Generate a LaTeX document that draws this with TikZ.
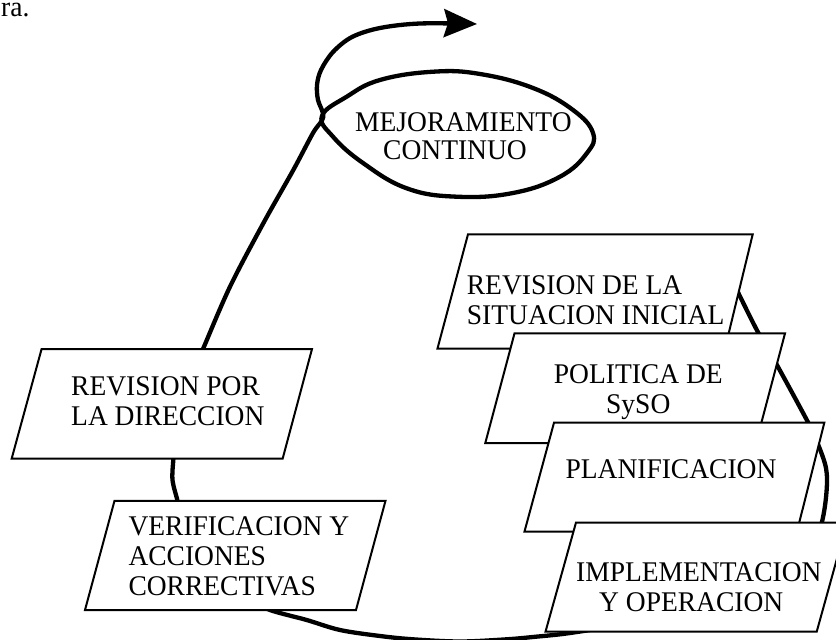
\documentclass[tikz,border=0pt]{standalone}
\usepackage{fontspec}
\setmainfont{Liberation Serif}[FakeStretch=0.965]
\usetikzlibrary{arrows.meta}
\begin{document}
\begin{tikzpicture}[x=1bp,y=-1bp,
  box/.style={draw=black, fill=white, line width=2bp, line join=miter},
  loopline/.style={draw=black, line width=4.3bp},
  lbl/.style={inner sep=0pt, font=\fontsize{28.5bp}{30bp}\selectfont},
]
\useasboundingbox (0,0) rectangle (836,640);
\clip (0,0) rectangle (836,640);

% fragment of text at the top left
\node[lbl, anchor=base west] (frag) at (1,17) {ra.};

% ---- loop line (drawn first, boxes cover it) ----
\coordinate (c1) at (728,272);
\coordinate (c2) at (812,548);
\draw[loopline] plot[smooth, tension=0.55] coordinates {(c1) (737.7,291.7) (757.7,331.7) (776,363.3) (807.7,421.7) (817,441.7) (826,468) (826.5,492) (822,521.7) (c2)};

\coordinate (c3) at (590,630);
\coordinate (c4) at (245,598);
\draw[loopline] plot[smooth, tension=0.55] coordinates {(c3) (562.7,634) (536,636.7) (506.7,639.3) (460,641.5) (413,639.3) (380,636) (340,630) (306.7,620) (270,610) (c4)};

\coordinate (c5) at (174,452);
\coordinate (c6) at (178.5,508);
\draw[loopline] plot[smooth, tension=0.55] coordinates {(c5) (173.3,460) (172.5,480) (177.3,500) (c6)};

\coordinate (c7) at (199,358);
\coordinate (tip) at (477,24);
\draw[loopline, -{Stealth[length=33bp,width=28bp,inset=4bp]}] plot[smooth, tension=0.55] coordinates {(c7) (203.3,348.3) (230,286.7) (263.3,223.3) (293.3,170) (313,133) (323.3,117) (318,100) (317,85) (321,70) (333,52) (352,37) (380,28) (420,23.5) (tip)};

% ---- ellipse ----
\draw[loopline] plot[smooth cycle, tension=0.7] coordinates {(322,116) (346.7,96.7) (380,80) (433.3,71.7) (480,74) (533,88) (573,110) (593,133) (587,153) (560,176.7) (513,193) (456.7,196.7) (406.7,188.3) (363,163) (333,136.7)};
\node[lbl, anchor=base west, align=left] (mej) at (355,160) {MEJORAMIENTO\\[-1.7bp]\hspace*{28bp}CONTINUO};

% ---- right stack of boxes ----
\draw[box] (468,234.3) -- (752.7,234.3) -- (725,348.5) -- (437.5,348.5) -- cycle;
\node[lbl, anchor=base west, align=left] (sit) at (466.7,324.3) {REVISION DE LA\\SITUACION INICIAL};

\draw[box] (514.5,333.4) -- (785,333.4) -- (756,443) -- (485.3,443) -- cycle;
\node[lbl, anchor=base, align=center] (pol) at (638.3,413.3) {POLITICA DE\\SySO};

\draw[box] (554,422.7) -- (824.3,422.7) -- (797,531.5) -- (524.5,531.5) -- cycle;
\node[lbl, anchor=base] (plan) at (671,478.3) {PLANIFICACION};

\draw[box] (576,522.5) -- (847,522.5) -- (816.7,631.7) -- (545.5,631.7) -- cycle;
\node[lbl, anchor=base west, align=left] (impl) at (576,611.7) {IMPLEMENTACION\\\hspace*{23bp}Y OPERACION};

% ---- left boxes ----
\draw[box] (41.6,349) -- (312,349) -- (282.7,458.5) -- (11.7,458.5) -- cycle;
\node[lbl, anchor=base west, align=left] (dir) at (71,425.5) {REVISION POR\\LA DIRECCION};

\draw[box] (114.5,500.8) -- (385.5,500.8) -- (356,610) -- (85,610) -- cycle;
\node[lbl, anchor=base west, align=left] (ver) at (128.3,595) {VERIFICACION Y\\ACCIONES\\CORRECTIVAS};
\end{tikzpicture}
\end{document}
